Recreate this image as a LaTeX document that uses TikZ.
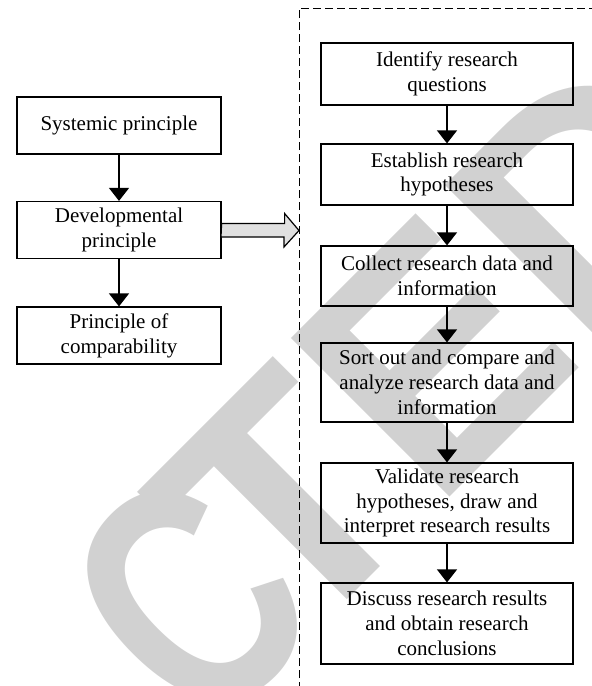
\documentclass[tikz,border=0pt]{standalone}
\usepackage{graphicx}
\usepackage{fontspec}
\setmainfont{Liberation Serif}
\newfontfamily\markfont{Liberation Sans}
\usetikzlibrary{arrows.meta}

\begin{document}
\begin{tikzpicture}[x=0.5pt, y=-0.5pt,
    box/.style={draw, line width=0.6pt, align=center, inner sep=1pt,
      font=\fontsize{10.5}{12.4}\selectfont},
    lbox/.style={box, minimum width=102pt, minimum height=28.5pt},
    rbox/.style={box, minimum width=126pt},
    link/.style={line width=0.6pt, -{Triangle[width=10pt, length=6.5pt]}}]

    \useasboundingbox (0,0) rectangle (592,686);
    \clip (0,0) rectangle (592,686);

    % Watermark
    \node[rotate=45, inner sep=0pt, text=black!18,
      font=\markfont\bfseries\fontsize{163}{170}\selectfont] (mark) at (-35,824)
      {RETRA\kern.34em\scalebox{.75}[1]{C}\kern-.16em TED};

    % Nodes
    \node[lbox] (l1) at (119,125.5) {Systemic principle};
    \node[lbox] (l2) at (119,230) {Developmental\\principle};
    \node[lbox] (l3) at (119,335.5) {Principle of\\comparability};

    \node[rbox, minimum height=31pt] (r1) at (447,74) {Identify research\\questions};
    \node[rbox, minimum height=30.5pt] (r2) at (447,174.5) {Establish research\\hypotheses};
    \node[rbox, minimum height=30pt] (r3) at (447,276) {Collect research data and\\information};
    \node[rbox, minimum height=39.5pt] (r4) at (447,382.5) {Sort out and compare and\\analyze research data and\\information};
    \node[rbox, minimum height=40pt] (r5) at (447,503) {Validate research\\hypotheses, draw and\\interpret research results};
    \node[rbox, minimum height=40.5pt] (r6) at (447,623.5) {Discuss research results\\and obtain research\\conclusions};

    % Frame
    \coordinate (tip) at (299,230.5);
    \draw[line width=0.5pt, dash pattern=on 4pt off 2pt] (299,690) |- (600,8);

    % Lines
    \draw[link] (l1) -- (l2);
    \draw[link] (l2) -- (l3);
    \draw[link] (r1) -- (r2);
    \draw[link] (r2) -- (r3);
    \draw[link] (r3) -- (r4);
    \draw[link] (r4) -- (r5);
    \draw[link] (r5) -- (r6);

    % Hollow arrow
    \draw[line width=0.6pt, fill=black!12] (l2.east) ++(0,-6.5) -- ++(63,0) -- ++(0,-10)
      -- (tip) -- ++(-15,16.5) -- ++(0,-10) -- ++(-63,0) -- cycle;

\end{tikzpicture}
\end{document}
